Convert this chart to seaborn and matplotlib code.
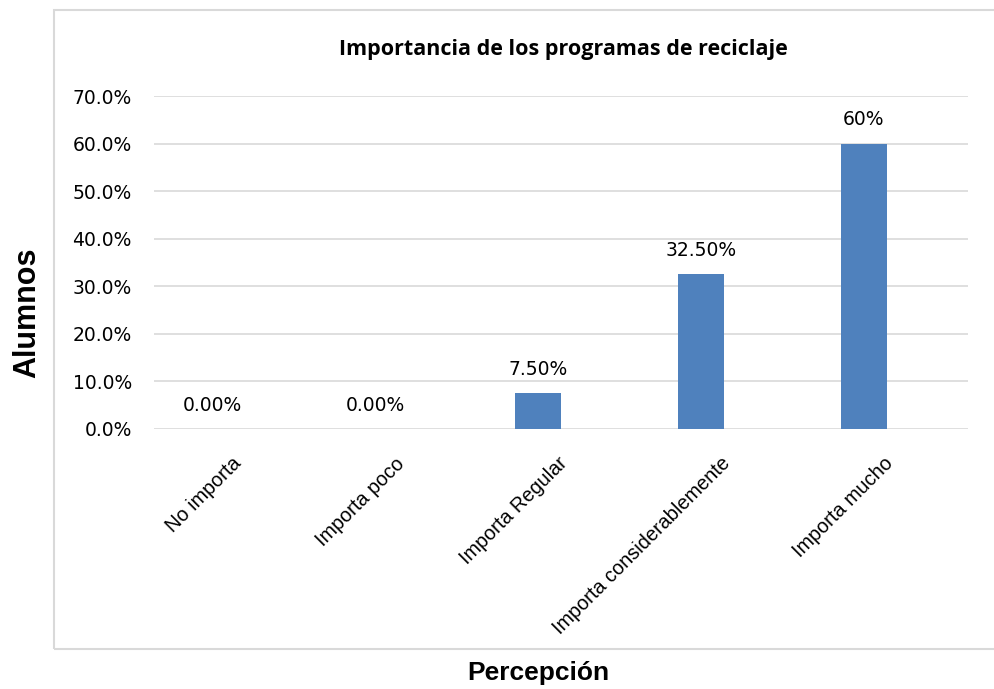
import matplotlib
matplotlib.use("Agg")
import matplotlib.pyplot as plt
import matplotlib.transforms as mtransforms
import seaborn as sns
import pandas as pd
from matplotlib.patches import Rectangle

################################
# data:
################################

categorias = ["No importa", "Importa poco", "Importa Regular",
              "Importa considerablemente", "Importa mucho"]
porcentajes = [0.0, 0.0, 0.075, 0.325, 0.60]
etiquetas = ["0.00%", "0.00%", "7.50%", "32.50%", "60%"]
yticks = [0.0, 0.1, 0.2, 0.3, 0.4, 0.5, 0.6, 0.7]

df = pd.DataFrame({"Percepcion": categorias, "Valor": porcentajes})

################################
# plot:
################################

sns.set_style("white")
plt.rcParams["font.family"] = ["DejaVu Sans"]
plt.rcParams["text.color"] = "black"

fig = plt.figure(figsize=(9.95, 6.89), dpi=100)
ax = fig.add_axes([154 / 995, 1 - 429 / 689, (968 - 154) / 995, (429 - 96) / 689])

sns.barplot(data=df, x="Percepcion", y="Valor", color="#4f81bd",
            width=0.28, saturation=1, linewidth=0, ax=ax, zorder=3)

ax.set_xlim(-0.356, 4.64)
ax.set_ylim(0, 0.70)
ax.set_yticks(yticks)
ax.set_yticklabels([f"{t * 100:.1f}%" for t in yticks], fontsize=13.5, color="black")
ax.tick_params(axis="y", length=0, pad=16)
ax.tick_params(axis="x", length=0, pad=0)
ax.yaxis.grid(True, color="#d9d9d9", linewidth=1.2, zorder=0)
ax.xaxis.grid(False)
for s in ax.spines.values():
    s.set_visible(False)
ax.set_xlabel("")
ax.set_ylabel("")

# category labels rotated like excel
offset = mtransforms.ScaledTranslation(0.20, -0.25, fig.dpi_scale_trans)
ax.set_xticks(range(len(categorias)))
ax.set_xticklabels(categorias, rotation=45, ha="right", va="top",
                   rotation_mode="anchor", fontsize=14.3,
                   family="Liberation Sans", color="black")
for lbl in ax.get_xticklabels():
    lbl.set_transform(lbl.get_transform() + offset)

# value labels
for i, (v, txt) in enumerate(zip(porcentajes, etiquetas)):
    ax.annotate(txt, (i, v), xytext=(0, 17), textcoords="offset points",
                ha="center", va="center", fontsize=13.5, color="black")

fig.text(563 / 995, 1 - 50 / 689, "Importancia de los programas de reciclaje",
         ha="center", va="center", fontsize=15.5, fontweight="bold",
         family="Open Sans", color="black")
fig.text(27 / 995, 1 - 313 / 689, "Alumnos", rotation=90, ha="center", va="center",
         fontsize=22, fontweight="bold", family="Liberation Sans", color="black")
fig.text(538 / 995, 1 - 673 / 689, "Percepción", ha="center", va="center",
         fontsize=19, fontweight="bold", family="Liberation Sans", color="black")

# chart border
fig.patches.append(Rectangle((54 / 995, 1 - 649 / 689), (1000 - 54) / 995, (649 - 10) / 689,
                             transform=fig.transFigure, fill=False,
                             edgecolor="#d9d9d9", linewidth=1.5))

fig.savefig("out.png", dpi=100)
